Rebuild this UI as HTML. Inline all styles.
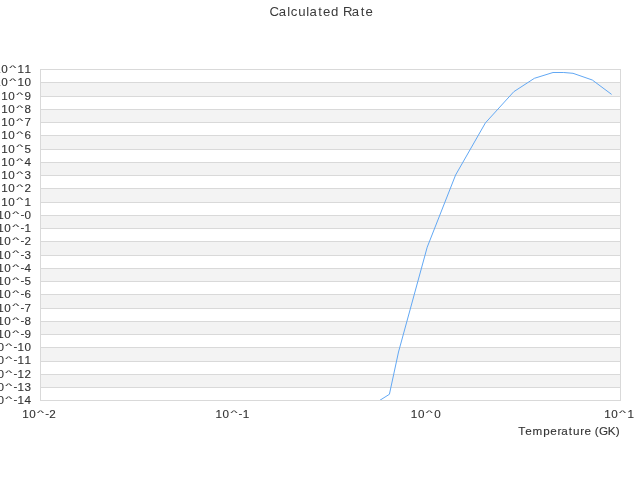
<!DOCTYPE html>
<html><head><meta charset="utf-8"><style>html,body{margin:0;padding:0;background:#fff;width:640px;height:480px;overflow:hidden}svg{display:block;will-change:transform}</style></head>
<body><svg width="640" height="480" viewBox="0 0 640 480">
<rect x="0" y="0" width="640" height="480" fill="#fff"/>
<rect x="40" y="82" width="581" height="14" fill="#f3f3f3"/>
<rect x="40" y="109" width="581" height="13" fill="#f3f3f3"/>
<rect x="40" y="135" width="581" height="14" fill="#f3f3f3"/>
<rect x="40" y="162" width="581" height="13" fill="#f3f3f3"/>
<rect x="40" y="188" width="581" height="14" fill="#f3f3f3"/>
<rect x="40" y="215" width="581" height="13" fill="#f3f3f3"/>
<rect x="40" y="241" width="581" height="14" fill="#f3f3f3"/>
<rect x="40" y="268" width="581" height="13" fill="#f3f3f3"/>
<rect x="40" y="294" width="581" height="14" fill="#f3f3f3"/>
<rect x="40" y="321" width="581" height="13" fill="#f3f3f3"/>
<rect x="40" y="347" width="581" height="14" fill="#f3f3f3"/>
<rect x="40" y="374" width="581" height="13" fill="#f3f3f3"/>
<rect x="40" y="69" width="581" height="1" fill="#d9d9d9"/>
<rect x="40" y="82" width="581" height="1" fill="#d9d9d9"/>
<rect x="40" y="96" width="581" height="1" fill="#d9d9d9"/>
<rect x="40" y="109" width="581" height="1" fill="#d9d9d9"/>
<rect x="40" y="122" width="581" height="1" fill="#d9d9d9"/>
<rect x="40" y="135" width="581" height="1" fill="#d9d9d9"/>
<rect x="40" y="149" width="581" height="1" fill="#d9d9d9"/>
<rect x="40" y="162" width="581" height="1" fill="#d9d9d9"/>
<rect x="40" y="175" width="581" height="1" fill="#d9d9d9"/>
<rect x="40" y="188" width="581" height="1" fill="#d9d9d9"/>
<rect x="40" y="202" width="581" height="1" fill="#d9d9d9"/>
<rect x="40" y="215" width="581" height="1" fill="#d9d9d9"/>
<rect x="40" y="228" width="581" height="1" fill="#d9d9d9"/>
<rect x="40" y="241" width="581" height="1" fill="#d9d9d9"/>
<rect x="40" y="255" width="581" height="1" fill="#d9d9d9"/>
<rect x="40" y="268" width="581" height="1" fill="#d9d9d9"/>
<rect x="40" y="281" width="581" height="1" fill="#d9d9d9"/>
<rect x="40" y="294" width="581" height="1" fill="#d9d9d9"/>
<rect x="40" y="308" width="581" height="1" fill="#d9d9d9"/>
<rect x="40" y="321" width="581" height="1" fill="#d9d9d9"/>
<rect x="40" y="334" width="581" height="1" fill="#d9d9d9"/>
<rect x="40" y="347" width="581" height="1" fill="#d9d9d9"/>
<rect x="40" y="361" width="581" height="1" fill="#d9d9d9"/>
<rect x="40" y="374" width="581" height="1" fill="#d9d9d9"/>
<rect x="40" y="387" width="581" height="1" fill="#d9d9d9"/>
<rect x="40" y="400" width="581" height="1" fill="#d9d9d9"/>
<rect x="40" y="69" width="1" height="332" fill="#d9d9d9"/>
<rect x="620" y="69" width="1" height="332" fill="#d9d9d9"/>
<clipPath id="c"><rect x="40" y="69" width="580" height="331"/></clipPath>
<polyline clip-path="url(#c)" points="370.00,406.50 389.40,394.30 398.50,352.00 427.20,247.20 455.60,175.00 485.40,122.90 513.80,91.70 534.40,78.30 553.00,72.50 563.75,72.50 573.00,73.30 592.30,80.00 611.60,94.40" fill="none" stroke="#62a8f4" stroke-width="1"/>
<g font-family='"Liberation Sans", sans-serif' fill="#333333" stroke="#333333" stroke-width="0.12">
<g stroke-width="0" fill="#3a3a3a"><text x="269.60 278.81 287.29 290.68 298.13 306.28 309.39 318.21 322.97 330.99 338.87 342.97 351.87 360.68 365.45" y="16" font-size="13.2">Calculated Rate</text></g>
<text x="-5.72 1.34" y="73.20 73.20" font-size="11.66">10</text><text transform="translate(12.69,67.57) scale(1.285,0.643)" x="-2.74" y="3.83" font-size="11.66">^</text><text x="17.50 24.50" y="73.20 73.20" font-size="11.66">11</text>
<text x="-5.72 1.34" y="86.44 86.44" font-size="11.66">10</text><text transform="translate(12.69,80.81) scale(1.285,0.643)" x="-2.74" y="3.83" font-size="11.66">^</text><text x="17.50 24.56" y="86.44 86.44" font-size="11.66">10</text>
<text x="1.28 8.34" y="99.68 99.68" font-size="11.66">10</text><text transform="translate(19.69,94.05) scale(1.285,0.643)" x="-2.74" y="3.83" font-size="11.66">^</text><text x="24.52" y="99.68" font-size="11.66">9</text>
<text x="1.28 8.34" y="112.92 112.92" font-size="11.66">10</text><text transform="translate(19.69,107.29) scale(1.285,0.643)" x="-2.74" y="3.83" font-size="11.66">^</text><text x="24.56" y="112.92" font-size="11.66">8</text>
<text x="1.28 8.34" y="126.16 126.16" font-size="11.66">10</text><text transform="translate(19.69,120.53) scale(1.285,0.643)" x="-2.74" y="3.83" font-size="11.66">^</text><text x="24.53" y="126.16" font-size="11.66">7</text>
<text x="1.28 8.34" y="139.40 139.40" font-size="11.66">10</text><text transform="translate(19.69,133.77) scale(1.285,0.643)" x="-2.74" y="3.83" font-size="11.66">^</text><text x="24.56" y="139.40" font-size="11.66">6</text>
<text x="1.28 8.34" y="152.64 152.64" font-size="11.66">10</text><text transform="translate(19.69,147.01) scale(1.285,0.643)" x="-2.74" y="3.83" font-size="11.66">^</text><text x="24.51" y="152.64" font-size="11.66">5</text>
<text x="1.28 8.34" y="165.88 165.88" font-size="11.66">10</text><text transform="translate(19.69,160.25) scale(1.285,0.643)" x="-2.74" y="3.83" font-size="11.66">^</text><text x="24.56" y="165.88" font-size="11.66">4</text>
<text x="1.28 8.34" y="179.12 179.12" font-size="11.66">10</text><text transform="translate(19.69,173.49) scale(1.285,0.643)" x="-2.74" y="3.83" font-size="11.66">^</text><text x="24.57" y="179.12" font-size="11.66">3</text>
<text x="1.28 8.34" y="192.36 192.36" font-size="11.66">10</text><text transform="translate(19.69,186.73) scale(1.285,0.643)" x="-2.74" y="3.83" font-size="11.66">^</text><text x="24.41" y="192.36" font-size="11.66">2</text>
<text x="1.28 8.34" y="205.60 205.60" font-size="11.66">10</text><text transform="translate(19.69,199.97) scale(1.285,0.643)" x="-2.74" y="3.83" font-size="11.66">^</text><text x="24.50" y="205.60" font-size="11.66">1</text>
<text x="-2.69 4.37" y="218.84 218.84" font-size="11.66">10</text><text transform="translate(15.72,213.21) scale(1.285,0.643)" x="-2.74" y="3.83" font-size="11.66">^</text><text x="20.38 24.56" y="217.84 218.84" font-size="11.66">-0</text>
<text x="-2.69 4.37" y="232.08 232.08" font-size="11.66">10</text><text transform="translate(15.72,226.45) scale(1.285,0.643)" x="-2.74" y="3.83" font-size="11.66">^</text><text x="20.38 24.50" y="231.08 232.08" font-size="11.66">-1</text>
<text x="-2.69 4.37" y="245.32 245.32" font-size="11.66">10</text><text transform="translate(15.72,239.69) scale(1.285,0.643)" x="-2.74" y="3.83" font-size="11.66">^</text><text x="20.38 24.41" y="244.32 245.32" font-size="11.66">-2</text>
<text x="-2.69 4.37" y="258.56 258.56" font-size="11.66">10</text><text transform="translate(15.72,252.93) scale(1.285,0.643)" x="-2.74" y="3.83" font-size="11.66">^</text><text x="20.38 24.57" y="257.56 258.56" font-size="11.66">-3</text>
<text x="-2.69 4.37" y="271.80 271.80" font-size="11.66">10</text><text transform="translate(15.72,266.17) scale(1.285,0.643)" x="-2.74" y="3.83" font-size="11.66">^</text><text x="20.38 24.56" y="270.80 271.80" font-size="11.66">-4</text>
<text x="-2.69 4.37" y="285.04 285.04" font-size="11.66">10</text><text transform="translate(15.72,279.41) scale(1.285,0.643)" x="-2.74" y="3.83" font-size="11.66">^</text><text x="20.38 24.51" y="284.04 285.04" font-size="11.66">-5</text>
<text x="-2.69 4.37" y="298.28 298.28" font-size="11.66">10</text><text transform="translate(15.72,292.65) scale(1.285,0.643)" x="-2.74" y="3.83" font-size="11.66">^</text><text x="20.38 24.56" y="297.28 298.28" font-size="11.66">-6</text>
<text x="-2.69 4.37" y="311.52 311.52" font-size="11.66">10</text><text transform="translate(15.72,305.89) scale(1.285,0.643)" x="-2.74" y="3.83" font-size="11.66">^</text><text x="20.38 24.53" y="310.52 311.52" font-size="11.66">-7</text>
<text x="-2.69 4.37" y="324.76 324.76" font-size="11.66">10</text><text transform="translate(15.72,319.13) scale(1.285,0.643)" x="-2.74" y="3.83" font-size="11.66">^</text><text x="20.38 24.56" y="323.76 324.76" font-size="11.66">-8</text>
<text x="-2.69 4.37" y="338.00 338.00" font-size="11.66">10</text><text transform="translate(15.72,332.37) scale(1.285,0.643)" x="-2.74" y="3.83" font-size="11.66">^</text><text x="20.38 24.52" y="337.00 338.00" font-size="11.66">-9</text>
<text x="-9.69 -2.63" y="351.24 351.24" font-size="11.66">10</text><text transform="translate(8.73,345.61) scale(1.285,0.643)" x="-2.74" y="3.83" font-size="11.66">^</text><text x="13.38 17.50 24.56" y="350.24 351.24 351.24" font-size="11.66">-10</text>
<text x="-9.69 -2.63" y="364.48 364.48" font-size="11.66">10</text><text transform="translate(8.73,358.85) scale(1.285,0.643)" x="-2.74" y="3.83" font-size="11.66">^</text><text x="13.38 17.50 24.50" y="363.48 364.48 364.48" font-size="11.66">-11</text>
<text x="-9.69 -2.63" y="377.72 377.72" font-size="11.66">10</text><text transform="translate(8.73,372.09) scale(1.285,0.643)" x="-2.74" y="3.83" font-size="11.66">^</text><text x="13.38 17.50 24.41" y="376.72 377.72 377.72" font-size="11.66">-12</text>
<text x="-9.69 -2.63" y="390.96 390.96" font-size="11.66">10</text><text transform="translate(8.73,385.33) scale(1.285,0.643)" x="-2.74" y="3.83" font-size="11.66">^</text><text x="13.38 17.50 24.57" y="389.96 390.96 390.96" font-size="11.66">-13</text>
<text x="-9.69 -2.63" y="404.20 404.20" font-size="11.66">10</text><text transform="translate(8.73,398.57) scale(1.285,0.643)" x="-2.74" y="3.83" font-size="11.66">^</text><text x="13.38 17.50 24.56" y="403.20 404.20 404.20" font-size="11.66">-14</text>
<text x="22.20 29.26" y="418.00 418.00" font-size="11.66">10</text><text transform="translate(40.61,412.37) scale(1.285,0.643)" x="-2.74" y="3.83" font-size="11.66">^</text><text x="45.27 49.30" y="417.00 418.00" font-size="11.66">-2</text>
<text x="215.54 222.60" y="418.00 418.00" font-size="11.66">10</text><text transform="translate(233.95,412.37) scale(1.285,0.643)" x="-2.74" y="3.83" font-size="11.66">^</text><text x="238.60 242.72" y="417.00 418.00" font-size="11.66">-1</text>
<text x="410.85 417.91" y="418.00 418.00" font-size="11.66">10</text><text transform="translate(429.27,412.37) scale(1.285,0.643)" x="-2.74" y="3.83" font-size="11.66">^</text><text x="434.13" y="418.00" font-size="11.66">0</text>
<text x="604.19 611.25" y="418.00 418.00" font-size="11.66">10</text><text transform="translate(622.60,412.37) scale(1.285,0.643)" x="-2.74" y="3.83" font-size="11.66">^</text><text x="627.40" y="418.00" font-size="11.66">1</text>
<text x="518.15 525.34 532.62 543.26 550.20 557.43 561.22 568.84 572.96 580.34 584.58 591.24 594.73 598.94 607.84 615.67" y="435" font-size="11.66">Temperature (GK)</text>
</g>
</svg></body></html>
